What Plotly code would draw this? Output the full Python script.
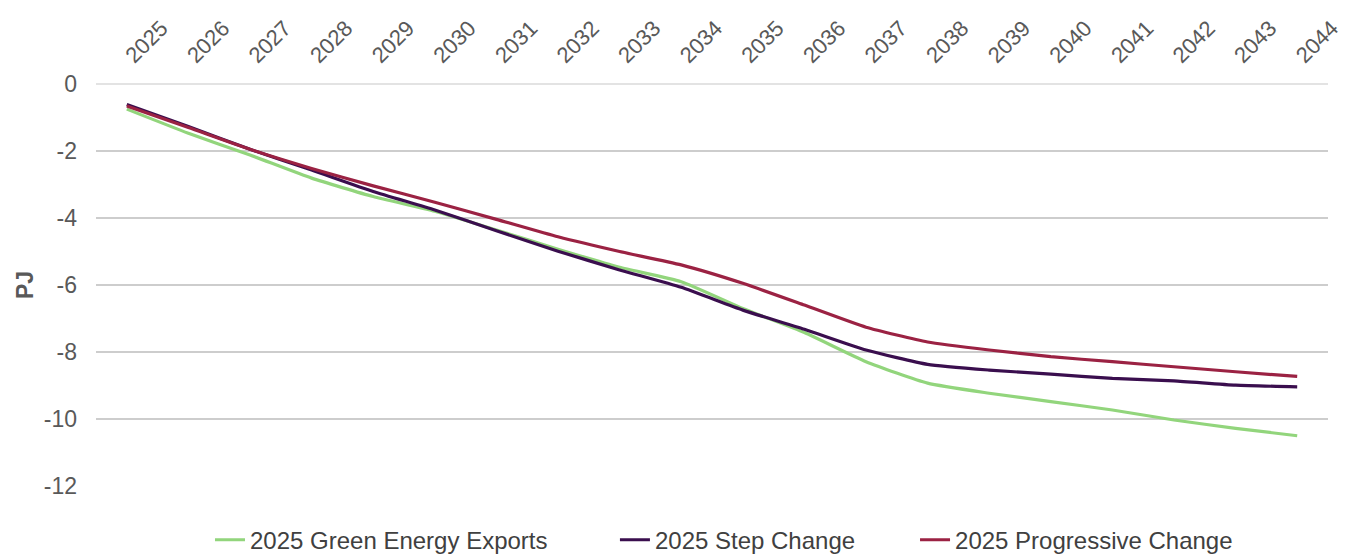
import plotly.graph_objects as go

# Projected annual change by scenario (PJ)
years = [str(y) for y in range(2025, 2045)]

green_energy_exports = [-0.75, -1.47, -2.12, -2.81, -3.36, -3.80, -4.36, -4.93, -5.47, -5.90,
                        -6.70, -7.42, -8.29, -8.93, -9.23, -9.48, -9.73, -10.03, -10.28, -10.50]
step_change = [-0.61, -1.27, -1.95, -2.57, -3.21, -3.76, -4.38, -4.99, -5.55, -6.07,
               -6.75, -7.32, -7.94, -8.37, -8.54, -8.66, -8.79, -8.86, -8.99, -9.04]
progressive_change = [-0.66, -1.30, -1.95, -2.52, -3.04, -3.53, -4.04, -4.56, -5.00, -5.40,
                      -5.95, -6.60, -7.26, -7.70, -7.94, -8.14, -8.29, -8.44, -8.59, -8.73]

series = [
    ("2025 Green Energy Exports", green_energy_exports, "#92D57C", "legend"),
    ("2025 Step Change", step_change, "#3A0E4E", "legend2"),
    ("2025 Progressive Change", progressive_change, "#9B2243", "legend3"),
]

y_ticks = [0, -2, -4, -6, -8, -10, -12]

FONT = "Liberation Sans, Arial, sans-serif"
TEXT = "#595959"
LEGEND_TEXT = "#404040"

fig = go.Figure()
for name, vals, color, leg in series:
    fig.add_trace(go.Scatter(
        x=years, y=vals, name=name, mode="lines", legend=leg,
        line=dict(color=color, width=3.2, shape="spline", smoothing=0.5),
    ))


def legend_box(x_left):
    # one legend per series so each entry sits where it should along the bottom row
    return dict(
        orientation="h", xref="container", yref="container",
        x=x_left, xanchor="left", y=0.025, yanchor="middle",
        font=dict(family=FONT, size=24, color=LEGEND_TEXT),
        itemwidth=30, bgcolor="rgba(0,0,0,0)",
    )


fig.update_layout(
    width=1353, height=554,
    margin=dict(l=96, r=25, t=84, b=68),
    paper_bgcolor="white", plot_bgcolor="white",
    font=dict(family=FONT, size=22, color=TEXT),
    showlegend=True,
    legend=legend_box(0.1552),
    legend2=legend_box(0.4545),
    legend3=legend_box(0.6763),
    xaxis=dict(
        type="category", side="top", tickangle=-45,
        range=[-0.5, len(years) - 0.5],
        showgrid=False, showline=False, zeroline=False, ticks="",
        ticklabelstandoff=11,
        tickfont=dict(family=FONT, size=22, color=TEXT),
        automargin=False,
    ),
    yaxis=dict(
        range=[-12, 0], tickvals=y_ticks, ticktext=[str(v) for v in y_ticks],
        showgrid=True, gridcolor="#CDCDCD", gridwidth=2,
        zeroline=True, zerolinecolor="#E3E3E3", zerolinewidth=2,
        showline=False, ticks="", ticklabelstandoff=18,
        tickfont=dict(family=FONT, size=23, color=TEXT),
        title=dict(text="<b>PJ</b>", font=dict(family=FONT, size=23, color=TEXT), standoff=3),
        automargin=False,
    ),
)

fig.write_html("out.html")
